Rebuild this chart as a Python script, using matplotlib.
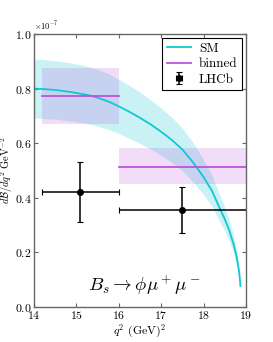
import numpy as np
import matplotlib
matplotlib.use("Agg")
import matplotlib.pyplot as plt
from matplotlib.container import ErrorbarContainer
from matplotlib.legend_handler import HandlerErrorbar

plt.rcParams['font.family'] = 'serif'
plt.rcParams['font.serif'] = ['cmr10']
plt.rcParams['mathtext.fontset'] = 'cm'
plt.rcParams['axes.formatter.use_mathtext'] = True
plt.rcParams['axes.unicode_minus'] = False

# SM prediction (units of 1e-7)
q2_sm = [14.0, 14.25, 14.5, 14.75, 15.0, 15.25, 15.5, 15.75, 16.0, 16.25, 16.5, 16.75,
         17.0, 17.25, 17.5, 17.75, 18.0, 18.2, 18.4, 18.5, 18.6, 18.7, 18.76, 18.8, 18.84, 18.87]
sm_mid = [0.800, 0.798, 0.795, 0.790, 0.784, 0.777, 0.767, 0.753, 0.735, 0.715, 0.693, 0.669,
          0.642, 0.612, 0.577, 0.530, 0.476, 0.425, 0.355, 0.322, 0.283, 0.234, 0.197, 0.166, 0.127, 0.077]
sm_up = [0.908, 0.906, 0.902, 0.897, 0.890, 0.882, 0.871, 0.855, 0.834, 0.812, 0.787, 0.759,
         0.729, 0.695, 0.655, 0.602, 0.540, 0.482, 0.403, 0.365, 0.321, 0.266, 0.224, 0.188, 0.144, 0.087]
sm_lo = [0.692, 0.690, 0.688, 0.683, 0.678, 0.672, 0.663, 0.651, 0.636, 0.618, 0.599, 0.579,
         0.555, 0.529, 0.499, 0.458, 0.412, 0.368, 0.307, 0.279, 0.245, 0.202, 0.170, 0.144, 0.110, 0.067]

# binned SM
bin_lo = [14.18, 16.0]
bin_hi = [16.0, 19.0]
bin_val = [0.773, 0.514]
bin_up = [0.877, 0.581]
bin_dn = [0.669, 0.449]

# LHCb data
lhcb_x = [15.09, 17.5]
lhcb_xlo = [14.18, 16.0]
lhcb_xhi = [16.0, 19.0]
lhcb_y = [0.421, 0.355]
lhcb_yerr_up = [0.110, 0.083]
lhcb_yerr_dn = [0.110, 0.085]

scale = 1e-7
cyan = '#10C8D2'
purple = '#BB55DD'

fig = plt.figure(figsize=(2.73, 3.42), dpi=100)
ax = fig.add_axes([0.1245, 0.1023, 0.7765, 0.7983])

x = np.array(q2_sm)
ax.fill_between(x, np.array(sm_lo) * scale, np.array(sm_up) * scale, color=cyan, alpha=0.22, lw=0)
ax.plot(x, np.array(sm_mid) * scale, color=cyan, lw=1.3, label='SM')

for i in range(len(bin_val)):
    ax.fill_between([bin_lo[i], bin_hi[i]], bin_dn[i] * scale, bin_up[i] * scale,
                    color=purple, alpha=0.2, lw=0)
    ax.plot([bin_lo[i], bin_hi[i]], [bin_val[i] * scale] * 2, color=purple, lw=1.3,
            label='binned' if i == 0 else None)

xerr = [np.array(lhcb_x) - np.array(lhcb_xlo), np.array(lhcb_xhi) - np.array(lhcb_x)]
yerr = [np.array(lhcb_yerr_dn) * scale, np.array(lhcb_yerr_up) * scale]
ax.errorbar(lhcb_x, np.array(lhcb_y) * scale, xerr=xerr, yerr=yerr, fmt='o', color='black',
            ms=4, lw=1.1, capsize=2, capthick=0.8, label='LHCb')

ax.set_xlim(14, 19)
ax.set_ylim(0, 1e-7)
ax.set_xticks([14, 15, 16, 17, 18, 19])
ax.set_yticks(np.array([0.0, 0.2, 0.4, 0.6, 0.8, 1.0]) * scale)

ax.tick_params(direction='in', top=True, right=True, labelsize=8.5, length=3,
               color='#666666', width=0.8, pad=1.5)
for s in ax.spines.values():
    s.set_color('#666666')
    s.set_linewidth(1.0)
ax.yaxis.get_offset_text().set_fontsize(6)

ax.set_xlabel(r'$q^2$ (GeV)$^2$', fontsize=8.5, labelpad=1)
ax.set_ylabel(r'$d\mathcal{B}/dq^2\ \mathrm{GeV}^{-2}$', fontsize=7.5)
ax.yaxis.set_label_coords(-0.088, 0.5)

ax.text(16.6, 0.08e-7, r'$B_s \to \phi\mu^+\mu^-$', fontsize=13.5, ha='center', va='center')

leg = ax.legend(loc='upper right', fontsize=9.5, fancybox=False, edgecolor='black',
                framealpha=1, handlelength=1.8, borderaxespad=0.3, labelspacing=0.25,
                borderpad=0.35, handletextpad=0.6,
                handler_map={ErrorbarContainer: HandlerErrorbar(xerr_size=0.25, yerr_size=0.45)})
leg.get_frame().set_linewidth(0.8)

plt.savefig('out.png', dpi=100)
